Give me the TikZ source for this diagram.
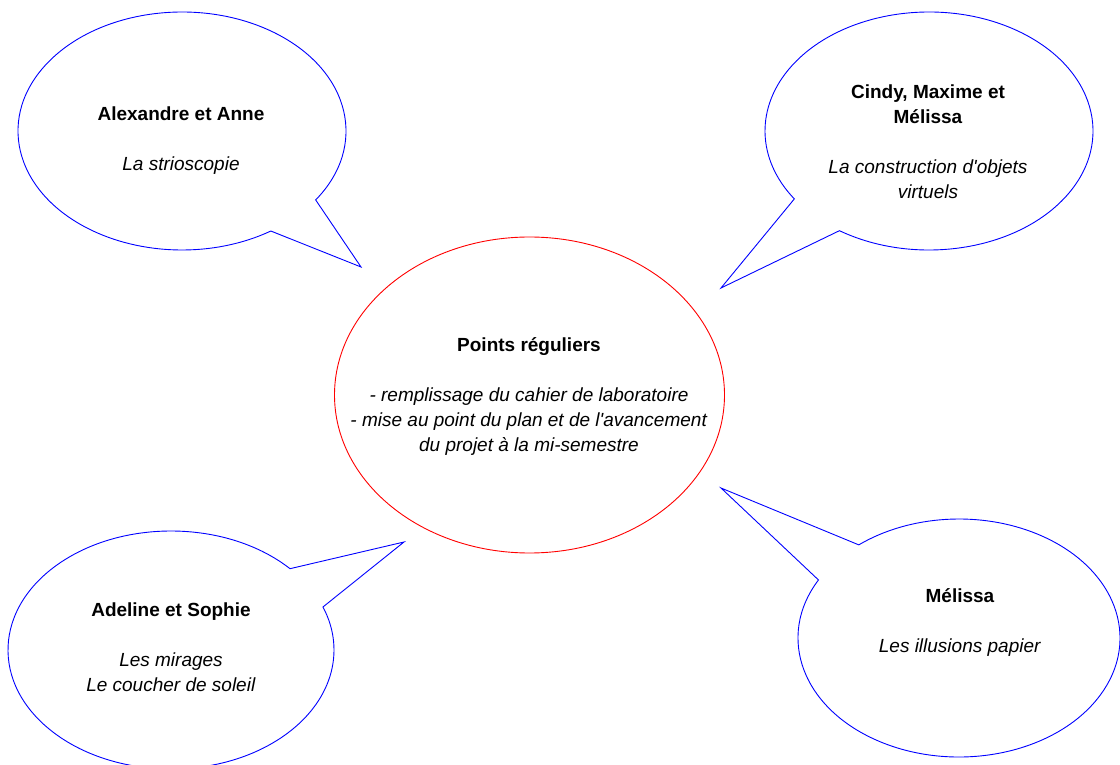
\documentclass[tikz,border=0pt]{standalone}
\usepackage{fontspec}
\setmainfont{Liberation Sans}

\begin{document}
\begin{tikzpicture}[x=1pt, y=1pt,
  every node/.style={font=\fontsize{19}{25}\selectfont, align=center},
  bulle/.style={draw=blue, line width=0.9pt, line join=miter},
  centre/.style={draw=red, line width=0.9pt}]
\useasboundingbox (0,0) rectangle (1120,764);
\clip (0,0) rectangle (1120,764);

% centres des bulles et pointes
\coordinate (cAA) at (182,633);
\coordinate (pAA) at (361,497);
\coordinate (cCM) at (929,633);
\coordinate (pCM) at (721,476);
\coordinate (cAS) at (171,114);
\coordinate (pAS) at (404,222);
\coordinate (cM) at (959,126);
\coordinate (pM) at (721,276);
\coordinate (cPR) at (529.5,369);

% ellipse centrale
\draw[centre] (cPR) ellipse[x radius=195pt, y radius=158pt];

% bulles
\draw[bulle] (cAA) ++(-35.4:164 and 119)
  arc[start angle=-35.4, end angle=302.8, x radius=164pt, y radius=119pt] -- (pAA) -- cycle;
\draw[bulle] (cCM) ++(236.9:164 and 119)
  arc[start angle=236.9, end angle=574.8, x radius=164pt, y radius=119pt] -- (pCM) -- cycle;
\draw[bulle] (cAS) ++(43.1:163 and 119)
  arc[start angle=43.1, end angle=381.2, x radius=163pt, y radius=119pt] -- (pAS) -- cycle;
\draw[bulle] (cM) ++(150.8:161 and 119)
  arc[start angle=150.8, end angle=488.5, x radius=161pt, y radius=119pt] -- (pM) -- cycle;

% textes
\node (tAA) at (181,623) {\textbf{Alexandre et Anne}\\[25pt]\textit{La strioscopie}};
\node (tCM) at (928,622) {\textbf{Cindy, Maxime et}\\\textbf{Mélissa}\\[25pt]%
  \textit{La construction d\textquotesingle objets}\\\textit{virtuels}};
\node (tPR) at (529,367) {\textbf{Points réguliers}\\[25pt]%
  \textit{- remplissage du cahier de laboratoire}\\%
  \textit{- mise au point du plan et de l\textquotesingle avancement}\\%
  \textit{du projet à la mi-semestre}};
\node (tAS) at (171,117) {\textbf{Adeline et Sophie}\\[25pt]\textit{Les mirages}\\\textit{Le coucher de soleil}};
\node (tM) at (960,141) {\textbf{Mélissa}\\[25pt]\textit{Les illusions papier}};
\end{tikzpicture}
\end{document}
